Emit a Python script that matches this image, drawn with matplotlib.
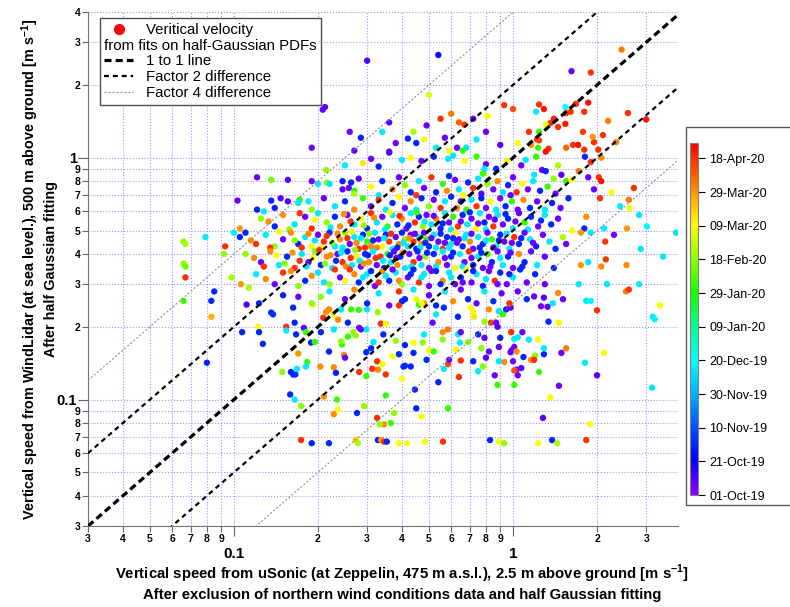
import numpy as np
import matplotlib
matplotlib.use("Agg")
import matplotlib.pyplot as plt
from matplotlib.colors import LinearSegmentedColormap, Normalize
from matplotlib.lines import Line2D
from matplotlib.patches import Rectangle

plt.rcParams['font.family'] = ['Liberation Sans', 'DejaVu Sans']
plt.rcParams['mathtext.fontset'] = 'custom'
plt.rcParams['mathtext.rm'] = 'Liberation Sans'
plt.rcParams['mathtext.bf'] = 'Liberation Sans:bold'

# points as (uSonic speed, WindLidar speed, days since 01-Oct-19)
low_row = [(0.174,0.068,200),(0.19,0.066,30),(0.219,0.066,30),(0.273,0.068,170),(0.278,0.066,145),
           (0.328,0.068,30),(0.337,0.068,180),(0.345,0.067,200),(0.353,0.067,30),(0.39,0.066,160),
           (0.417,0.066,160),(0.484,0.067,160),(0.561,0.067,200),(0.827,0.068,30),(0.891,0.067,160),
           (0.929,0.066,140),(1.23,0.066,160),(1.38,0.068,30),(1.44,0.066,145),(1.83,0.068,200)]

left_col = [(0.066,0.45,140),(0.067,0.44,145),(0.066,0.365,140),(0.067,0.355,135),(0.067,0.32,200),
            (0.066,0.256,125),(0.079,0.47,75),(0.083,0.256,30),(0.083,0.22,175),(0.085,0.28,30),
            (0.080,0.142,30),(0.092,0.40,140),(0.093,0.43,200),(0.098,0.32,145),(0.106,0.30,180),
            (0.113,0.29,145),(0.10,0.49,75),(0.11,0.49,30),(0.105,0.51,180)]

upper_left = [(0.208,1.58,5),(0.212,1.62,8),(0.30,2.52,10),(0.54,2.66,25),(0.50,1.82,155),(0.19,1.10,5),
              (0.285,1.21,30),(0.27,1.07,8),(0.31,0.99,5),(0.36,1.05,30),(0.214,0.89,140),(0.121,0.83,5),
              (0.136,0.81,135),(0.156,0.81,8),(0.19,0.80,5),(0.20,0.78,75),(0.215,0.79,140),(0.245,0.80,30),
              (0.263,0.79,30),(0.245,0.74,8),(0.258,0.75,5),(0.27,0.73,120),(0.103,0.665,5),(0.121,0.61,30),
              (0.128,0.60,75),(0.136,0.665,30),(0.147,0.68,8),(0.156,0.66,8),(0.172,0.67,125),(0.185,0.66,75),
              (1.62,2.28,5),(1.9,2.25,200),(2.45,2.8,185)]

upper_right = [(0.93,1.65,200),(1.0,1.59,195),(0.81,1.49,160),(1.24,1.66,200),(1.29,1.59,205),(1.21,1.55,75),
               (1.54,1.62,80),(1.68,1.67,200),(1.86,1.69,205),(1.80,1.55,200),(1.61,1.55,198),(1.55,1.53,200),
               (1.40,1.45,202),(1.36,1.39,200),(1.54,1.38,205),(1.45,1.34,200),(1.31,1.37,160),(1.14,1.28,200),
               (1.24,1.28,125),(1.22,1.19,200),(1.24,1.18,196),(1.04,1.15,160),(1.16,1.13,182),(1.23,1.10,125),
               (1.34,1.09,200),(1.31,1.06,205),(1.55,1.10,190),(1.64,1.13,200),(1.71,1.13,205),(1.80,1.08,200),
               (1.95,1.16,200),(1.78,1.28,198),(2.10,1.24,200),(1.93,1.22,180),(2.19,1.42,185),(2.58,1.53,200),
               (3.0,1.44,205),(2.34,1.16,185),(2.02,1.08,200),(2.07,1.0,182),(1.90,0.96,200),(1.72,0.88,185),
               (1.81,1.01,30),(1.86,0.83,5),(2.03,0.83,200),(2.07,0.80,205),(1.95,0.74,5),(2.25,0.72,160),
               (2.71,0.75,200),(2.60,0.67,185),(2.05,0.68,200),(2.42,0.63,75),(2.62,0.62,160),(2.83,0.58,75),
               (3.02,0.52,78),(3.84,0.49,72),(3.45,0.39,75),(2.87,0.42,75),(2.56,0.51,180),(2.30,0.48,5),
               (2.12,0.51,75),(2.14,0.45,200),(2.15,0.38,198),(1.83,0.57,182),(1.80,0.51,30),(1.75,0.49,180),
               (1.63,0.50,160),(1.51,0.47,145),(1.90,0.49,75),(1.86,0.37,75),(1.75,0.36,180),(2.07,0.355,182),
               (2.17,0.30,75),(2.54,0.28,185),(2.6,0.285,200),(2.83,0.30,75),(1.72,0.30,75),(1.83,0.256,75),
               (1.90,0.256,78),(2.0,0.234,200),(3.36,0.245,160),(3.17,0.22,75),(3.22,0.215,78),(2.55,0.36,182)]

lower_right = [(3.15,0.112,75),(2.12,0.156,160),(1.81,0.142,75),(2.0,0.126,8),(1.89,0.079,160),(1.46,0.114,5),
               (1.36,0.102,160),(1.28,0.084,8),(1.55,0.163,185),(1.49,0.156,5),(1.24,0.13,125),(1.29,0.154,30),
               (1.20,0.152,140),(1.16,0.146,182),(1.19,0.146,200),(1.09,0.15,30),(1.04,0.126,5),(1.03,0.133,5),
               (1.07,0.135,8),(1.01,0.115,125),(1.0,0.144,5),(0.99,0.16,5),(0.98,0.157,8),(1.01,0.165,5),
               (1.03,0.158,182),(1.01,0.132,195),(0.93,0.143,182),(0.89,0.144,75),(0.86,0.126,5),(0.88,0.115,125),
               (0.89,0.165,5),(0.90,0.18,30),(0.82,0.158,5),(0.80,0.149,8),(0.78,0.137,140),(0.75,0.131,75),
               (0.72,0.144,30),(0.65,0.145,200),(0.64,0.124,200),(0.625,0.161,160),(0.585,0.14,195),(0.565,0.134,75),
               (0.59,0.146,5),(0.54,0.118,30),(0.585,0.092,125),(0.47,0.085,160),(0.445,0.11,30),(0.45,0.092,30),
               (0.43,0.137,30),(0.41,0.138,30),(0.40,0.122,160),(0.35,0.127,200),(0.35,0.104,125),(0.375,0.088,140),
               (0.365,0.08,125),(0.345,0.079,182),(0.49,0.146,30),(0.50,0.16,160),(0.52,0.158,125),(0.44,0.172,160),
               (0.475,0.172,140),(0.41,0.168,30),(0.38,0.175,140),(0.39,0.154,30),(0.37,0.151,160),(0.44,0.156,30),
               (0.56,0.177,140),(0.56,0.19,182),(0.585,0.195,185),(0.48,0.186,75),(0.635,0.186,75),(0.645,0.172,75),
               (0.69,0.173,140),(0.77,0.163,140),(0.75,0.186,30),(0.79,0.18,5),(0.53,0.225,75),(0.565,0.24,30),
               (0.635,0.22,30),(0.707,0.24,160),(0.72,0.23,162),(0.725,0.22,165),(0.79,0.21,140),(0.82,0.236,182),
               (0.834,0.208,200),(0.87,0.208,5),(0.88,0.2,8),(0.89,0.232,75),(0.92,0.225,125),(0.945,0.236,30),
               (0.98,0.24,5),(1.19,0.267,5),(1.29,0.264,8),(1.45,0.276,182),(1.26,0.243,5),(1.33,0.242,8),
               (1.39,0.25,75),(1.51,0.26,5),(1.34,0.21,30),(1.46,0.208,160),(0.515,0.208,5),(0.65,0.19,5),
               (0.985,0.19,200),(1.01,0.178,75),(1.04,0.181,75),(1.08,0.19,5),(1.14,0.177,75),(1.23,0.177,160),
               (1.29,0.163,75)]

lower_mid = [(0.107,0.19,30),(0.111,0.247,10),(0.123,0.25,30),(0.136,0.229,30),(0.138,0.225,32),(0.122,0.20,160),
             (0.123,0.19,30),(0.127,0.17,30),(0.154,0.20,200),(0.154,0.193,75),(0.165,0.208,30),(0.167,0.186,30),
             (0.178,0.198,8),(0.181,0.19,125),(0.189,0.172,30),(0.195,0.173,125),(0.17,0.155,180),(0.16,0.13,30),
             (0.163,0.127,30),(0.166,0.127,32),(0.149,0.13,140),(0.168,0.134,75),(0.183,0.143,125),(0.181,0.137,75),
             (0.159,0.105,30),(0.165,0.10,75),(0.174,0.094,140),(0.204,0.137,182),(0.228,0.136,182),(0.232,0.129,30),
             (0.219,0.158,30),(0.21,0.103,182),(0.234,0.10,125),(0.236,0.091,160),(0.228,0.087,182),(0.276,0.088,30),
             (0.293,0.094,140),(0.248,0.153,182),(0.25,0.149,5),(0.244,0.169,125),(0.256,0.182,125),(0.273,0.184,140),
             (0.281,0.198,5),(0.298,0.195,75),(0.298,0.157,30),(0.31,0.163,30),(0.281,0.13,200),(0.298,0.125,125),
             (0.313,0.134,200),(0.326,0.144,200),(0.328,0.133,182),(0.34,0.14,160),(0.326,0.084,200),(0.333,0.079,140),
             (0.205,0.19,30),(0.256,0.208,30),(0.228,0.195,75),(0.242,0.174,140),(0.268,0.19,140),(0.285,0.195,5),
             (0.316,0.173,75),(0.336,0.206,200),(0.35,0.206,160),(0.343,0.186,30),(0.405,0.137,30),(0.242,0.236,75),
             (0.263,0.236,125),(0.28,0.235,125),(0.30,0.236,75),(0.328,0.23,140),(0.214,0.23,182),(0.227,0.225,160),
             (0.209,0.218,200),(0.219,0.236,182),(0.236,0.214,182),(0.205,0.266,140),(0.192,0.247,160),(0.163,0.24,30),
             (0.17,0.266,5),(0.40,0.255,30),(0.39,0.245,200),(0.45,0.26,160),(0.46,0.247,125),(0.48,0.25,182)]

band_1 = [(0.38,1.15,5),(0.42,1.20,30),(0.45,1.15,30),(0.48,1.19,160),(0.57,1.21,5),(0.49,1.36,5),(0.67,1.37,200),
          (0.64,1.40,190),(0.80,1.28,5),(0.74,1.19,75),(0.68,1.10,75),(0.66,1.07,125),(0.63,1.10,5),(0.59,1.07,160),
          (0.53,1.10,75),(0.36,1.06,8),(0.40,0.98,75),(0.43,1.0,160),(0.47,0.97,5),(0.52,1.01,30),(0.585,0.99,75),
          (0.61,1.02,75),(0.67,0.97,160),(0.74,1.01,125),(0.80,0.94,5),(0.79,0.90,75),(0.87,0.90,30),(0.95,0.97,160),
          (1.07,0.93,5),(1.11,0.98,75),(1.21,1.01,125),(1.27,0.89,5),(1.31,0.88,30),(1.19,0.85,75),(1.45,0.93,145),
          (1.49,0.85,8),(1.40,0.82,140),(1.55,0.80,125),(1.62,0.81,160),(0.90,1.13,5),(0.34,1.28,75),(0.36,1.40,8),
          (0.26,1.28,5),(0.33,0.92,30),(0.29,0.95,165),(0.25,0.93,75),(0.44,1.28,145),(0.55,1.45,200),(0.60,1.52,185),
          (0.72,1.45,5)]

band_2 = [(0.22,0.78,75),(0.28,0.82,5),(0.31,0.76,160),(0.34,0.80,30),(0.37,0.74,182),(0.39,0.83,5),(0.41,0.77,140),
          (0.43,0.72,30),(0.46,0.80,75),(0.48,0.75,5),(0.51,0.83,200),(0.53,0.72,30),(0.56,0.78,125),(0.58,0.73,182),
          (0.62,0.81,5),(0.64,0.74,75),(0.66,0.70,160),(0.69,0.79,30),(0.72,0.75,200),(0.75,0.82,75),(0.77,0.71,8),
          (0.81,0.78,140),(0.85,0.74,5),(0.88,0.80,182),(0.92,0.72,75),(0.96,0.77,30),(1.0,0.83,5),(1.03,0.72,200),
          (1.08,0.78,160),(1.13,0.74,5),(1.18,0.80,75),(1.25,0.73,30),(1.33,0.76,125),(1.42,0.71,5),(0.27,0.71,145),
          (0.33,0.70,75),(0.45,0.70,200),(0.59,0.84,30),(0.78,0.86,125),(0.98,0.70,8)]

band_3 = [(0.14,0.62,30),(0.17,0.65,75),(0.19,0.61,140),(0.21,0.68,5),(0.23,0.63,75),(0.25,0.66,30),(0.27,0.61,182),
          (0.29,0.68,125),(0.31,0.63,5),(0.33,0.67,200),(0.35,0.61,75),(0.37,0.65,30),(0.39,0.69,160),(0.41,0.62,5),
          (0.43,0.66,182),(0.45,0.61,75),(0.47,0.68,30),(0.50,0.63,140),(0.52,0.67,5),(0.55,0.62,200),(0.57,0.66,75),
          (0.60,0.69,30),(0.63,0.62,182),(0.65,0.66,5),(0.68,0.61,125),(0.71,0.67,75),(0.74,0.63,200),(0.77,0.68,30),
          (0.80,0.62,5),(0.83,0.66,160),(0.87,0.61,75),(0.90,0.68,5),(0.94,0.63,30),(0.99,0.66,125),(1.04,0.61,5),
          (1.09,0.67,182),(1.15,0.62,30),(1.22,0.66,5),(1.30,0.61,75),(1.38,0.65,30),(1.48,0.62,5),(1.58,0.68,30)]

band_4 = [(0.125,0.56,140),(0.14,0.52,30),(0.15,0.58,182),(0.165,0.53,75),(0.18,0.57,5),(0.19,0.51,200),(0.20,0.59,75),
          (0.215,0.54,140),(0.23,0.57,30),(0.24,0.52,182),(0.255,0.58,5),(0.27,0.53,75),(0.285,0.56,160),(0.30,0.51,30),
          (0.31,0.59,200),(0.325,0.54,75),(0.34,0.57,5),(0.355,0.52,125),(0.37,0.58,75),(0.385,0.53,30),(0.40,0.56,182),
          (0.415,0.51,5),(0.43,0.59,75),(0.445,0.54,200),(0.46,0.57,30),(0.475,0.52,140),(0.49,0.58,5),(0.51,0.53,75),
          (0.53,0.56,182),(0.55,0.51,30),(0.57,0.59,75),(0.59,0.54,5),(0.61,0.57,125),(0.635,0.52,200),(0.66,0.58,30),
          (0.685,0.53,75),(0.71,0.56,5),(0.735,0.51,160),(0.76,0.59,75),(0.79,0.54,30),(0.82,0.57,5),(0.85,0.52,200),
          (0.88,0.58,75),(0.92,0.53,5),(0.96,0.56,30),(1.0,0.51,75),(1.05,0.59,5),(1.10,0.54,125),(1.16,0.57,30),
          (1.23,0.52,5),(1.30,0.58,75),(1.37,0.53,30),(1.45,0.56,5)]

band_4b = [(0.133,0.545,182),(0.158,0.505,140),(0.172,0.59,200),(0.195,0.555,160),(0.222,0.515,75),(0.248,0.585,182),
           (0.262,0.545,200),(0.292,0.525,140),(0.318,0.565,182),(0.348,0.505,75),(0.362,0.595,160),(0.392,0.575,200),
           (0.422,0.525,30),(0.452,0.595,125),(0.482,0.545,75),(0.52,0.575,5),(0.56,0.535,30),(0.60,0.505,75),
           (0.65,0.545,5),(0.70,0.595,30),(0.75,0.535,5),(0.80,0.505,75),(0.86,0.555,5),(0.94,0.585,30),
           (1.02,0.545,5),(1.13,0.505,75),(1.26,0.55,30)]

band_5 = [(0.105,0.47,30),(0.12,0.44,200),(0.13,0.48,75),(0.14,0.43,140),(0.15,0.46,5),(0.16,0.49,182),(0.17,0.44,30),
          (0.18,0.47,75),(0.19,0.43,160),(0.20,0.48,5),(0.21,0.45,200),(0.22,0.49,30),(0.23,0.43,75),(0.24,0.46,182),
          (0.25,0.49,140),(0.26,0.44,5),(0.27,0.47,75),(0.28,0.42,200),(0.29,0.48,30),(0.30,0.45,125),(0.31,0.43,182),
          (0.32,0.49,75),(0.33,0.46,5),(0.34,0.43,160),(0.35,0.48,30),(0.36,0.45,200),(0.37,0.42,75),(0.38,0.47,5),
          (0.39,0.44,182),(0.40,0.49,30),(0.41,0.46,140),(0.42,0.43,75),(0.43,0.48,5),(0.44,0.45,200),(0.45,0.42,30),
          (0.46,0.47,75),(0.47,0.44,182),(0.48,0.49,5),(0.49,0.46,125),(0.50,0.43,30),(0.52,0.48,75),(0.54,0.45,5),
          (0.56,0.42,200),(0.58,0.47,30),(0.60,0.44,75),(0.62,0.49,160),(0.64,0.46,5),(0.66,0.43,30),(0.68,0.48,75),
          (0.70,0.45,182),(0.72,0.42,5),(0.75,0.47,75),(0.78,0.44,30),(0.81,0.49,5),(0.84,0.46,125),(0.87,0.43,75),
          (0.90,0.48,30),(0.93,0.45,5),(0.97,0.42,75),(1.01,0.47,200),(1.05,0.44,30),(1.10,0.49,5),(1.15,0.46,75),
          (1.21,0.43,30),(1.28,0.48,5),(1.35,0.45,75),(1.42,0.42,30),(1.55,0.44,5)]

band_5b = [(0.115,0.455,182),(0.135,0.425,200),(0.145,0.495,160),(0.165,0.455,140),(0.175,0.425,200),(0.185,0.485,182),
           (0.195,0.455,75),(0.205,0.425,160),(0.215,0.475,200),(0.225,0.445,140),(0.235,0.485,182),(0.245,0.425,75),
           (0.255,0.465,200),(0.265,0.495,160),(0.275,0.445,182),(0.285,0.465,75),(0.295,0.425,200),(0.305,0.485,140),
           (0.315,0.455,30),(0.325,0.425,182),(0.345,0.465,75),(0.365,0.485,200),(0.385,0.425,30),(0.405,0.445,75),
           (0.425,0.465,182),(0.445,0.485,5),(0.465,0.425,75),(0.485,0.445,30),(0.51,0.465,5),(0.53,0.425,75),
           (0.55,0.485,30),(0.57,0.445,5),(0.59,0.425,75),(0.61,0.465,30),(0.63,0.445,5),(0.67,0.465,75),
           (0.71,0.485,5),(0.76,0.425,30),(0.80,0.455,75),(0.85,0.425,5),(0.89,0.455,30),(0.95,0.485,75),
           (0.99,0.445,5),(1.07,0.465,30),(1.18,0.445,5)]

band_6 = [(0.11,0.40,140),(0.125,0.37,5),(0.135,0.41,182),(0.145,0.36,75),(0.155,0.39,30),(0.165,0.35,200),(0.175,0.40,75),
          (0.185,0.37,5),(0.195,0.41,140),(0.205,0.36,30),(0.215,0.39,182),(0.225,0.35,75),(0.235,0.40,5),(0.245,0.37,200),
          (0.255,0.41,30),(0.265,0.36,75),(0.275,0.39,160),(0.285,0.355,5),(0.295,0.40,30),(0.305,0.37,182),(0.315,0.41,75),
          (0.325,0.36,5),(0.335,0.39,200),(0.345,0.35,30),(0.355,0.40,125),(0.365,0.37,75),(0.375,0.41,5),(0.385,0.36,182),
          (0.395,0.39,30),(0.41,0.35,75),(0.425,0.40,5),(0.44,0.37,200),(0.455,0.41,30),(0.47,0.36,75),(0.485,0.39,140),
          (0.50,0.35,5),(0.52,0.40,30),(0.54,0.37,182),(0.56,0.41,75),(0.58,0.36,5),(0.60,0.39,30),(0.62,0.35,160),
          (0.645,0.40,75),(0.67,0.37,5),(0.695,0.41,200),(0.72,0.36,30),(0.75,0.39,75),(0.78,0.35,5),(0.81,0.40,125),
          (0.84,0.37,30),(0.88,0.41,5),(0.92,0.36,75),(0.96,0.39,30),(1.0,0.35,5),(1.05,0.40,182),(1.10,0.37,30),
          (1.16,0.41,5),(1.22,0.36,75),(1.30,0.39,5),(1.40,0.35,30)]

band_6b = [(0.118,0.385,182),(0.128,0.355,200),(0.142,0.395,160),(0.152,0.365,140),(0.162,0.405,182),(0.172,0.375,200),
           (0.182,0.355,75),(0.192,0.385,160),(0.202,0.415,200),(0.212,0.365,140),(0.222,0.395,182),(0.232,0.375,30),
           (0.242,0.405,75),(0.252,0.355,182),(0.262,0.385,200),(0.272,0.415,140),(0.282,0.375,75),(0.292,0.365,182),
           (0.302,0.395,30),(0.322,0.385,200),(0.342,0.375,75),(0.362,0.395,30),(0.382,0.385,5),(0.402,0.405,182),
           (0.432,0.355,75),(0.462,0.385,5),(0.492,0.405,30),(0.53,0.355,75),(0.57,0.385,5),(0.61,0.405,30),
           (0.66,0.355,75),(0.71,0.385,5),(0.77,0.405,30),(0.83,0.355,5),(0.90,0.385,75),(0.98,0.405,5),(1.08,0.355,30)]

band_7 = [(0.12,0.33,75),(0.14,0.30,5),(0.16,0.34,182),(0.18,0.31,30),(0.20,0.335,75),(0.22,0.30,140),(0.24,0.32,5),
          (0.26,0.345,200),(0.28,0.305,30),(0.30,0.33,75),(0.32,0.295,5),(0.34,0.34,182),(0.36,0.31,30),(0.38,0.335,75),
          (0.40,0.30,140),(0.42,0.32,5),(0.44,0.345,30),(0.46,0.305,200),(0.48,0.33,75),(0.50,0.295,5),(0.53,0.34,30),
          (0.56,0.31,182),(0.59,0.335,75),(0.62,0.30,5),(0.65,0.32,30),(0.68,0.345,160),(0.71,0.305,5),(0.74,0.33,75),
          (0.78,0.295,30),(0.82,0.34,5),(0.86,0.31,200),(0.90,0.335,30),(0.95,0.30,5),(1.0,0.32,75),(1.06,0.345,30),
          (1.12,0.305,5),(1.20,0.33,30),(1.30,0.30,5)]

band_7b = [(0.13,0.315,182),(0.15,0.335,200),(0.17,0.295,140),(0.19,0.325,182),(0.21,0.305,75),(0.23,0.345,200),
           (0.25,0.31,160),(0.27,0.33,182),(0.29,0.32,75),(0.31,0.34,30),(0.33,0.305,200),(0.35,0.325,75),
           (0.37,0.345,5),(0.39,0.31,182),(0.43,0.33,30),(0.47,0.32,75),(0.51,0.34,5),(0.55,0.30,30),
           (0.60,0.32,75),(0.66,0.305,5),(0.72,0.34,30),(0.80,0.315,75),(0.88,0.30,5),(0.97,0.33,30)]

band_8 = [(0.15,0.27,30),(0.19,0.25,140),(0.22,0.28,75),(0.25,0.26,5),(0.27,0.285,182),(0.30,0.25,30),(0.33,0.275,75),
          (0.36,0.245,5),(0.39,0.28,200),(0.41,0.26,30),(0.44,0.285,75),(0.47,0.25,160),(0.50,0.27,5),(0.53,0.245,30),
          (0.57,0.28,75),(0.61,0.255,182),(0.65,0.285,5),(0.69,0.26,30),(0.74,0.25,5),(0.79,0.28,75),(0.85,0.255,30),
          (0.91,0.275,5),(0.97,0.25,200),(1.04,0.28,5),(1.12,0.26,30)]

cbar_days = [0, 20, 40, 60, 80, 100, 120, 140, 160, 180, 200]
cbar_labels = ['01-Oct-19', '21-Oct-19', '10-Nov-19', '30-Nov-19', '20-Dec-19', '09-Jan-20',
               '29-Jan-20', '18-Feb-20', '09-Mar-20', '29-Mar-20', '18-Apr-20']
day_max = 209

groups = [low_row, left_col, upper_left, upper_right, lower_right, lower_mid,
          band_1, band_2, band_3, band_4, band_4b, band_5, band_5b, band_6, band_6b,
          band_7, band_7b, band_8]
pts = np.array([p for g in groups for p in g], dtype=float)
xs, ys, days = pts[:, 0], pts[:, 1], pts[:, 2]

cmap = LinearSegmentedColormap.from_list('rainbow_dates', [
    (0.0, (0.55, 0.0, 1.0)), (0.1, (0.0, 0.0, 1.0)), (0.2, (0.0, 0.35, 1.0)),
    (0.29, (0.0, 0.7, 1.0)), (0.38, (0.0, 1.0, 1.0)), (0.48, (0.0, 1.0, 0.55)),
    (0.58, (0.1, 1.0, 0.0)), (0.67, (0.55, 1.0, 0.0)), (0.77, (1.0, 1.0, 0.0)),
    (0.87, (1.0, 0.55, 0.0)), (1.0, (1.0, 0.0, 0.0))])
norm = Normalize(vmin=0, vmax=day_max)

fig = plt.figure(figsize=(7.9, 6.07), dpi=100)
ax = fig.add_axes([0.1114, 0.1334, 0.7468, 0.8466])
ax.set_xscale('log')
ax.set_yscale('log')

sc = ax.scatter(xs, ys, c=days, cmap=cmap, norm=norm, s=21, edgecolors='none', zorder=2)

ref_x = np.array([0.03, 4.0])
ax.plot(ref_x, ref_x, color='black', lw=2.3, dashes=(2.2, 1.3), zorder=3)
for f in (2.0, 0.5):
    ax.plot(ref_x, ref_x * f, color='black', lw=1.6, dashes=(2.2, 1.8), zorder=3)
for f in (4.0, 0.25):
    ax.plot(ref_x, ref_x * f, color='0.55', lw=0.8, dashes=(1.8, 1.8), zorder=3)

ax.set_xlim(0.03, 3.9)
ax.set_ylim(0.03, 4.0)

minor_x = [m * 10.0 ** e for e in (-2, -1, 0) for m in range(2, 10) if 0.03 <= m * 10.0 ** e <= 3.9]
minor_y = [m * 10.0 ** e for e in (-2, -1, 0) for m in range(2, 10) if 0.03 <= m * 10.0 ** e <= 4.0]
def digit(v):
    return str(int(round(v / 10 ** np.floor(np.log10(v) + 1e-9))))
ax.set_xticks([0.1, 1], ['0.1', '1'], fontsize=11, fontweight='bold')
ax.set_yticks([0.1, 1], ['0.1', '1'], fontsize=10.5, fontweight='bold')
ax.set_xticks(minor_x, [digit(v) for v in minor_x], minor=True, fontsize=7.5, fontweight='bold')
ax.set_yticks(minor_y, [digit(v) for v in minor_y], minor=True, fontsize=7.5, fontweight='bold')
ax.tick_params(which='minor', length=4, width=0.8, pad=1.5, direction='out', color='0.4')
ax.tick_params(which='major', length=7, width=0.8, direction='out', color='0.4')
ax.tick_params(axis='x', which='major', pad=8)
ax.tick_params(axis='y', which='major', pad=1)

ax.grid(True, which='both', color=(0.6, 0.6, 1.0), linestyle=':', linewidth=0.8, zorder=0)
ax.set_axisbelow(True)
for s in ('top', 'right'):
    ax.spines[s].set_visible(False)
for s in ('left', 'bottom'):
    ax.spines[s].set_color('0.45')

ax.set_xlabel('Vertical speed from uSonic (at Zeppelin, 475 m a.s.l.), 2.5 m above ground [m s$^{\\mathbf{-1}}$]\n'
              'After exclusion of northern wind conditions data and half Gaussian fitting',
              fontsize=10.7, fontweight='bold', linespacing=1.25, va='center')
ax.xaxis.set_label_coords(0.532, -0.109)
ax.set_ylabel('Vertical speed from WindLidar (at sea level.), 500 m above ground [m s$^{\\mathbf{-1}}$]\n'
              'After half Gaussian fitting',
              fontsize=10.4, fontweight='bold', linespacing=1.25, va='center')
ax.yaxis.set_label_coords(-0.084, 0.5)

handles = [Line2D([], [], marker='o', color='red', ls='none', markersize=7),
           Line2D([], [], ls='none'),
           Line2D([], [], color='black', lw=2.3, dashes=(2.2, 1.3)),
           Line2D([], [], color='black', lw=1.6, dashes=(2.2, 1.8)),
           Line2D([], [], color='0.55', lw=0.8, dashes=(1.8, 1.8))]
labels = ['Veritical velocity', 'from fits on half-Gaussian PDFs', '1 to 1 line',
          'Factor 2 difference', 'Factor 4 difference']
leg = ax.legend(handles, labels, loc='upper left', bbox_to_anchor=(0.02, 0.988), borderaxespad=0,
                fontsize=10.8, fancybox=False, edgecolor='0.3', framealpha=1, labelspacing=0.12,
                handlelength=1.9, handletextpad=0.9, borderpad=0.3)
leg.get_frame().set_linewidth(1.0)
# second legend row has no symbol: drop its empty handle so the text starts at the box edge
row = leg._legend_handle_box.get_children()[0].get_children()[1]
row.get_children().pop(0)

cax = fig.add_axes([0.8734, 0.1845, 0.0101, 0.5795])
cb = fig.colorbar(sc, cax=cax, ticks=cbar_days)
cb.ax.set_yticklabels(cbar_labels, fontsize=9)
cb.ax.tick_params(length=5, width=0.8, pad=3, direction='out')
cb.outline.set_edgecolor('0.5')
fig.add_artist(Rectangle((0.8684, 0.168), 0.2, 0.623, transform=fig.transFigure,
                         fill=False, edgecolor='0.35', lw=1))

fig.savefig('out.png', dpi=100)
